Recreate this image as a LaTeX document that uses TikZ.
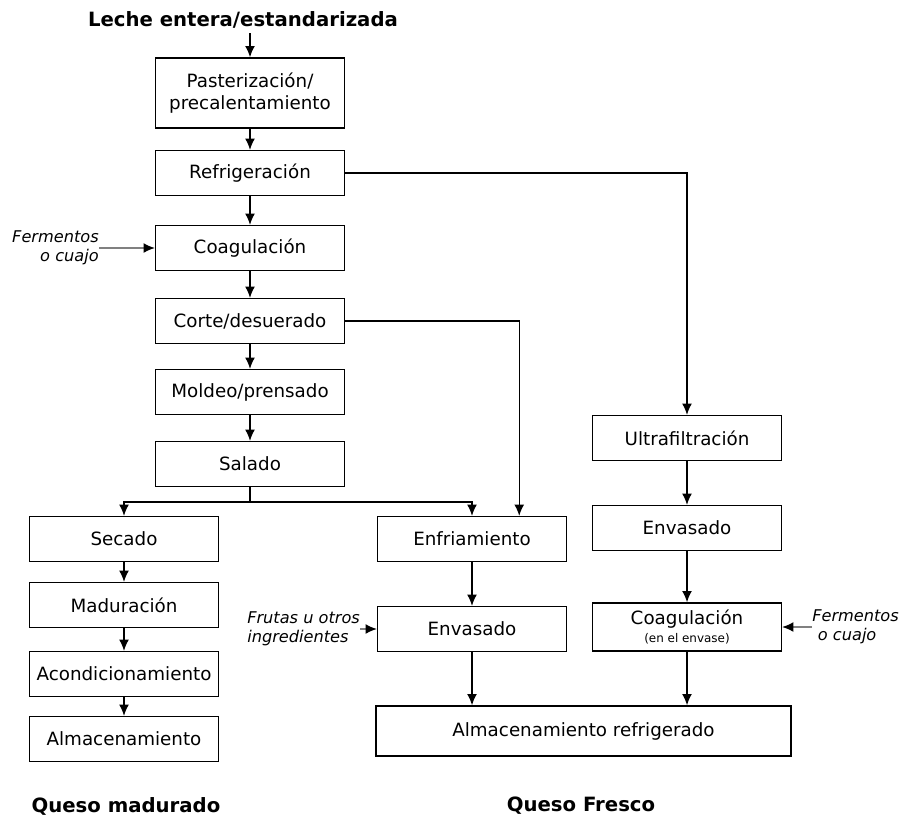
\documentclass[tikz,border=0pt]{standalone}
\usepackage{fontspec}
\setmainfont{DejaVu Sans}
\usetikzlibrary{arrows.meta,positioning,calc}

\tikzset{
  box/.style={draw, line width=1pt, minimum width=4.72cm, minimum height=1.12cm,
    align=center, inner sep=2pt, font=\fontsize{13}{16}\selectfont},
  flow/.style={line width=1pt, -{Latex[length=8pt,width=7pt]}},
  input/.style={line width=1pt, gray, -{Latex[length=8pt,width=7pt,black]}},
  note/.style={inner sep=0pt, font=\fontsize{11.5}{13.5}\selectfont\itshape},
  heading/.style={font=\fontsize{14}{16}\selectfont\bfseries}
}

\begin{document}
\begin{tikzpicture}[x=0.025cm, y=-0.025cm]
  \useasboundingbox (0,0) rectangle (900,818);
  % Main line
  \node[heading] (leche) at (243,20) {Leche entera/estandarizada};
  \node[box, minimum height=1.75cm] (past) at (250,93) {Pasterización/\\precalentamiento};
  \node[box] (refr) at (250,173) {Refrigeración};
  \node[box] (coag) at (250,248) {Coagulación};
  \node[box] (corte) at (250,321) {Corte/desuerado};
  \node[box] (mold) at (250,392) {Moldeo/prensado};
  \node[box] (sal) at (250,464) {Salado};
  % Queso madurado
  \node[box] (sec) at (124,539) {Secado};
  \node[box] (mad) at (124,605) {Maduración};
  \node[box] (acon) at (124,674) {Acondicionamiento};
  \node[box] (alm) at (124,739) {Almacenamiento};
  \node[heading] (qmad) at (126,806) {Queso madurado};
  % Queso fresco
  \node[box] (enfr) at (472,539) {Enfriamiento};
  \node[box] (envL) at (472,629) {Envasado};
  \node[box] (ultra) at (687,438) {Ultrafiltración};
  \node[box] (envR) at (687,528) {Envasado};
  \node[box, minimum height=1.2cm] (coagR) at (687,627) {Coagulación\\[-3pt]{\fontsize{8.5}{9}\selectfont (en el envase)}};
  \node[box, minimum width=10.375cm, minimum height=1.25cm] (almR) at (583.5,731) {Almacenamiento refrigerado};
  \node[heading] (qfre) at (581,806) {Queso Fresco};
  % Inputs
  \node[note, anchor=east, align=right] (ferm1) at (99,248) {Fermentos\\o cuajo};
  \node[note, anchor=west, align=left] (frut) at (247,629) {Frutas u otros\\ingredientes};
  \node[note, anchor=west, align=left] (ferm2) at (812,627) {Fermentos\\\hspace{4pt}o cuajo};
  % Arrows
  \draw[flow] (past.north |- leche.south) -- (past.north);
  \foreach \a/\b in {past/refr, refr/coag, coag/corte, corte/mold, mold/sal,
                     sec/mad, mad/acon, acon/alm, enfr/envL, ultra/envR, envR/coagR}
    \draw[flow] (\a) -- (\b);
  \draw[flow] (refr.east) -| (ultra.north);
  \draw[flow] (corte.east) -| ([xshift=1.18cm]enfr.north);
  \draw[flow] (sal.south) -- ++(0,15) -| (sec.north);
  \draw[flow] (sal.south) -- ++(0,15) -| (enfr.north);
  \draw[flow] (envL) -- (envL |- almR.north);
  \draw[flow] (coagR) -- (coagR |- almR.north);
  \draw[input] (ferm1.east) -- (coag.west);
  \draw[input] (frut.east) -- (envL.west);
  \draw[input] (ferm2.west) -- (coagR.east);
\end{tikzpicture}
\end{document}
